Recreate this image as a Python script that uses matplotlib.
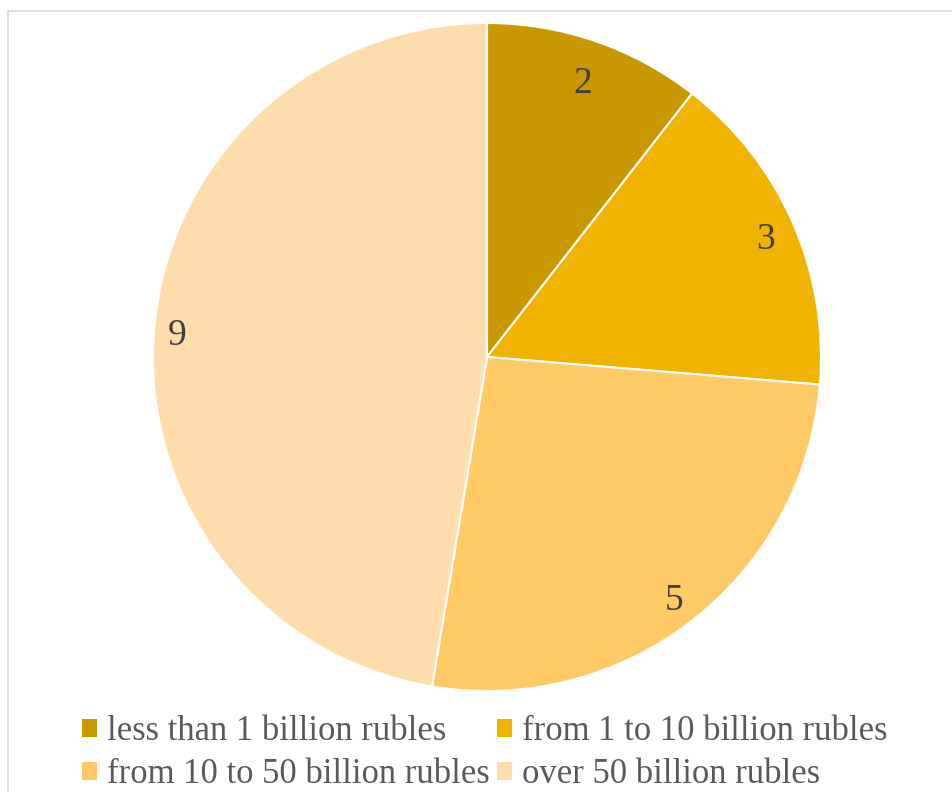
import matplotlib
matplotlib.use("Agg")
import matplotlib.pyplot as plt
import numpy as np
from matplotlib.patches import Patch, Rectangle

categories = ["less than 1 billion rubles", "from 1 to 10 billion rubles",
              "from 10 to 50 billion rubles", "over 50 billion rubles"]
values = [2, 3, 5, 9]
colors = ["#C99700", "#F0B400", "#FFC966", "#FEDCAC"]
label_dist = [0.88, 0.91, 0.91, 0.93]

plt.rcParams['font.family'] = ['Liberation Serif', 'DejaVu Serif']

W, H = 953, 792
fig = plt.figure(figsize=(W / 100, H / 100), dpi=100)

# outer light border
fig.patches.append(Rectangle((8 / W, -0.01), 1.0, 1 - 11 / H + 0.01, transform=fig.transFigure,
                             fill=False, edgecolor="#D9D9D9", linewidth=1.2))

cx, cy, r = 487, 357, 334
ax = fig.add_axes([(cx - r) / W, (H - cy - r) / H, 2 * r / W, 2 * r / H])
wedges, _ = ax.pie(values, colors=colors, startangle=90, counterclock=False,
                   radius=1.0, wedgeprops=dict(edgecolor="white", linewidth=1.5))
ax.set_xlim(-1, 1)
ax.set_ylim(-1, 1)
ax.set_aspect("equal")
ax.axis("off")

total = sum(values)
cum = 0
for v, d in zip(values, label_dist):
    mid = 90 - (cum + v / 2) / total * 360
    cum += v
    a = np.deg2rad(mid)
    ax.text(d * np.cos(a), d * np.sin(a) - 0.013, str(v), ha="center", va="center",
            fontsize=27, color="#404040")

handles = [Patch(facecolor=c, edgecolor="none") for c in colors]
order = [0, 2, 1, 3]  # row-major layout in a 2-column legend
fig.legend([handles[i] for i in order], [categories[i] for i in order],
           loc="upper left", bbox_to_anchor=(82 / W, 1 - 715 / H),
           ncol=2, frameon=False, fontsize=24.9, labelcolor="#595959",
           handlelength=0.43, handleheight=0.43, handletextpad=0.3,
           columnspacing=0.2, labelspacing=0.3, borderpad=0, borderaxespad=0)

fig.savefig("out.png", dpi=100)
